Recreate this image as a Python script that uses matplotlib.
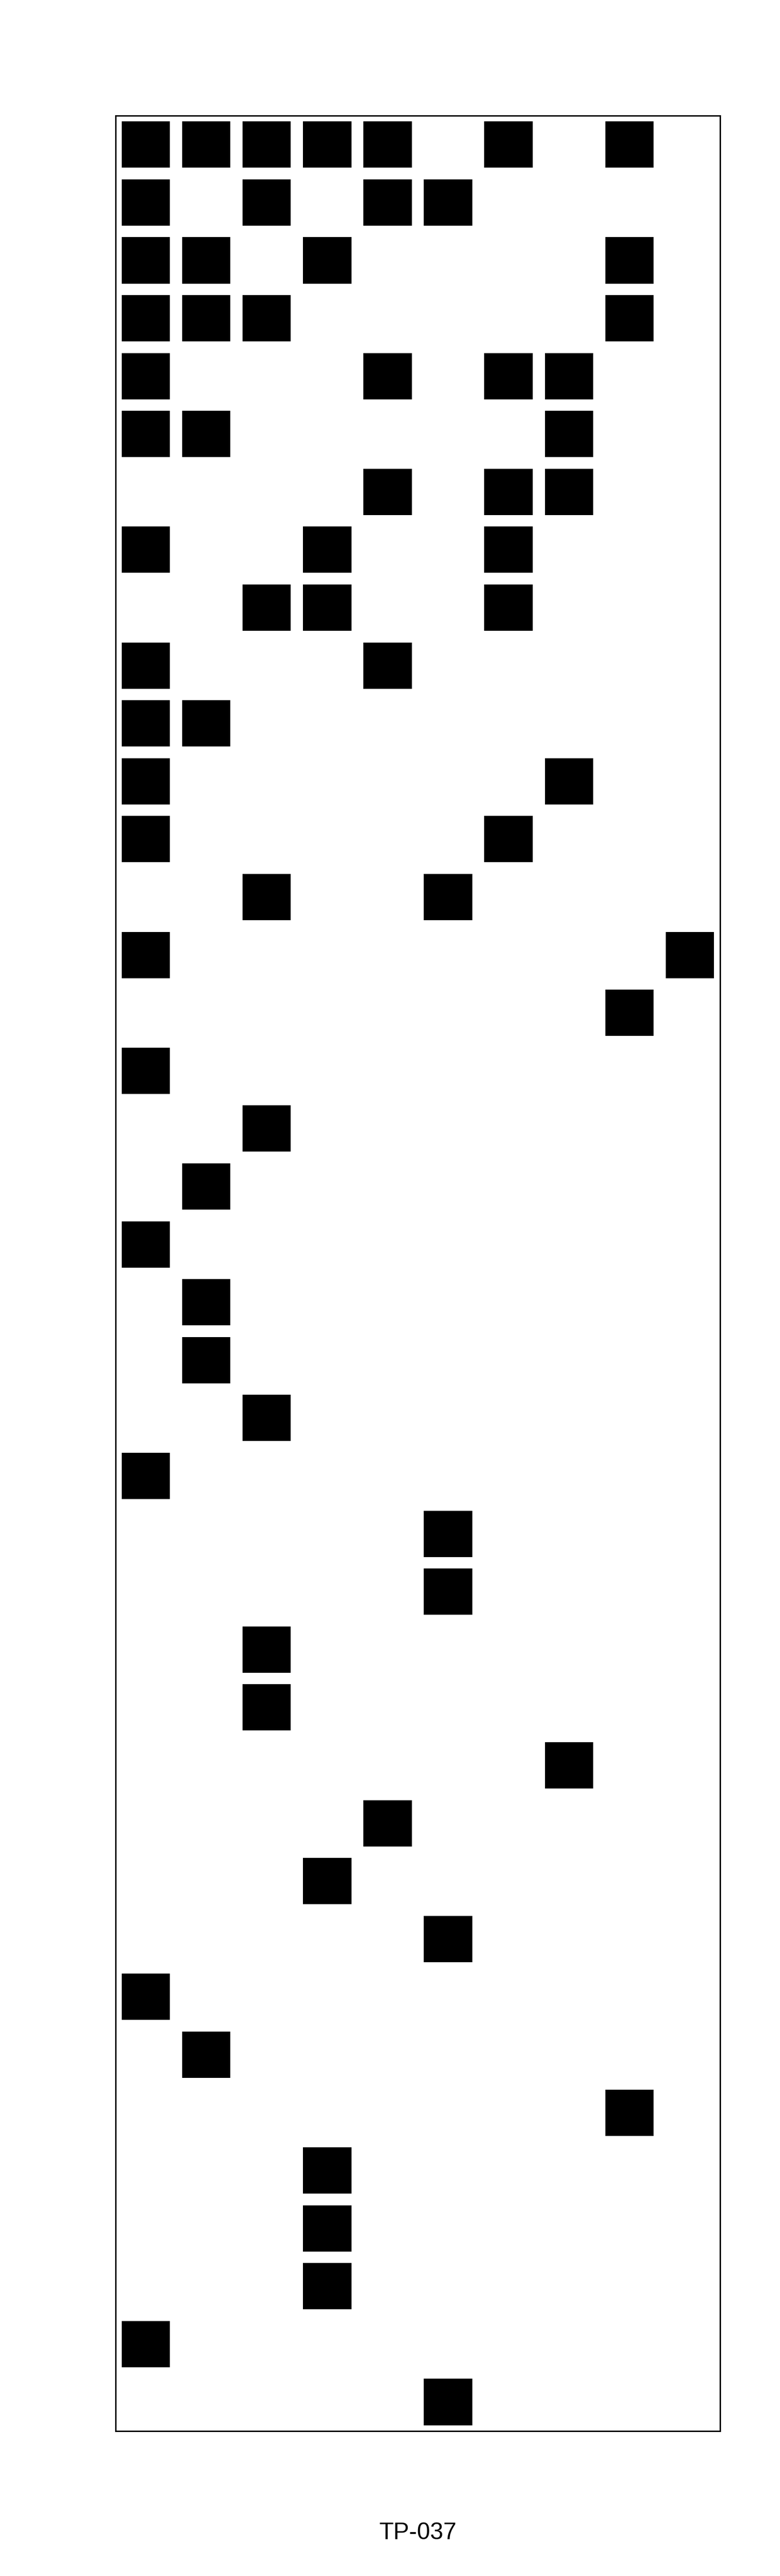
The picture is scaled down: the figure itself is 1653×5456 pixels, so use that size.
import matplotlib
matplotlib.use('Agg')
import matplotlib.pyplot as plt

# filled cells per row (row 0 at top), column indices 0-9
n_cols = 10
n_rows = 40
row_cells = [
    [0, 1, 2, 3, 4, 6, 8],
    [0, 2, 4, 5],
    [0, 1, 3, 8],
    [0, 1, 2, 8],
    [0, 4, 6, 7],
    [0, 1, 7],
    [4, 6, 7],
    [0, 3, 6],
    [2, 3, 6],
    [0, 4],
    [0, 1],
    [0, 7],
    [0, 6],
    [2, 5],
    [0, 9],
    [8],
    [0],
    [2],
    [1],
    [0],
    [1],
    [1],
    [2],
    [0],
    [5],
    [5],
    [2],
    [2],
    [7],
    [4],
    [3],
    [5],
    [0],
    [1],
    [8],
    [3],
    [3],
    [3],
    [0],
    [5],
]
label = 'TP-037'

rows = []
cols = []
for r, cells in enumerate(row_cells):
    for c in cells:
        rows.append(r)
        cols.append(c)

plt.rcParams['font.family'] = ['Liberation Sans', 'DejaVu Sans']

fig = plt.figure(figsize=(16.53, 54.56), dpi=100)
ax = fig.add_axes([0.1482, 0.0563, 0.7750, 0.8988])

size = 0.8
ax.barh(rows, size, height=size, left=[c - size / 2 for c in cols],
        color='black', linewidth=0)

ax.set_xlim(-0.5, n_cols - 0.5)
ax.set_ylim(n_rows - 0.5, -0.5)
ax.set_xticks([])
ax.set_yticks([])
for s in ax.spines.values():
    s.set_linewidth(2.2)
    s.set_color('black')

fig.text(0.5358, 1 - 5378 / 5456, label, ha='center', va='baseline', fontsize=36)

fig.savefig('out.png', dpi=100)
